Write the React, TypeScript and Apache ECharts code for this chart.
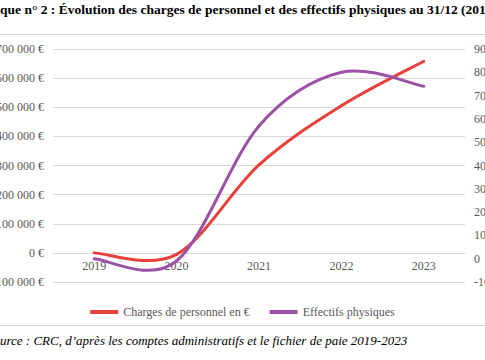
import React, { useEffect, useRef } from "react";
import * as echarts from "echarts";

const categories = ["2019", "2020", "2021", "2022", "2023"];
const chargesPersonnel = [0, -5000, 302000, 505000, 658000];
const effectifsPhysiques = [0, -1, 57, 80, 74];
const seriesNames = ["Charges de personnel en €", "Effectifs physiques"];
const titleText =
  "Graphique n° 2 : Évolution des charges de personnel et des effectifs physiques au 31/12 (2019-2023)";
const sourceText =
  "Source : CRC, d’après les comptes administratifs et le fichier de paie 2019-2023";

const SERIF = "Liberation Serif";
const GRAY = "#595959";
const GRID = "#d9d9d9";
const RED = "#e8403a";
const PURPLE = "#9b52a6";

function fmtEuro(v: number): string {
  const neg = v < 0;
  const s = String(Math.abs(v)).replace(/\B(?=(\d{3})+(?!\d))/g, "\u00a0");
  return (neg ? "-" : "") + s + "\u00a0€";
}

function splineSeries(name: string, values: number[], yAxisIndex: number, color: string, z: number) {
  const n = values.length;
  return {
    type: "custom",
    name,
    yAxisIndex,
    z,
    data: values.map((v, i) => [i, v]),
    encode: { x: 0, y: 1 },
    itemStyle: { color },
    renderItem: (params: any, api: any) => {
      const i = params.dataIndex;
      if (i >= n - 1) return null;
      const P = (k: number) => {
        const kk = Math.max(0, Math.min(n - 1, k));
        return api.coord([kk, values[kk]]);
      };
      const p0 = P(i - 1);
      const p1 = P(i);
      const p2 = P(i + 1);
      const p3 = P(i + 2);
      const cpx1 = p1[0] + (p2[0] - p0[0]) / 6;
      const cpy1 = p1[1] + (p2[1] - p0[1]) / 6;
      const cpx2 = p2[0] - (p3[0] - p1[0]) / 6;
      const cpy2 = p2[1] - (p3[1] - p1[1]) / 6;
      return {
        type: "bezierCurve",
        shape: { x1: p1[0], y1: p1[1], x2: p2[0], y2: p2[1], cpx1, cpy1, cpx2, cpy2 },
        style: { stroke: color, lineWidth: 3, fill: null, lineCap: "round" },
      };
    },
  };
}

export default function App() {
  const ref = useRef<HTMLDivElement>(null);
  useEffect(() => {
    if (!ref.current) return;
    const chart = echarts.init(ref.current, null, { renderer: "svg" });
    chart.setOption({
      animation: false,
      textStyle: { fontFamily: SERIF },
      grid: {
        left: 53,
        right: 20,
        top: 49,
        bottom: 78,
        containLabel: false,
        outerBoundsMode: "none",
      },
      legend: {
        data: [
          { name: seriesNames[0], icon: "rect", itemStyle: { color: RED } },
          { name: seriesNames[1], icon: "rect", itemStyle: { color: PURPLE } },
        ],
        left: "center",
        top: 301,
        itemWidth: 28,
        itemHeight: 4,
        itemGap: 20,
        textStyle: { fontFamily: SERIF, fontSize: 12, color: GRAY },
      },
      xAxis: {
        type: "category",
        data: categories,
        boundaryGap: true,
        offset: -29.1,
        axisLine: { show: true, onZero: false, lineStyle: { color: GRID, width: 1 } },
        axisTick: { show: false },
        axisLabel: { color: GRAY, fontFamily: SERIF, fontSize: 12, margin: 7 },
      },
      yAxis: [
        {
          type: "value",
          min: -100000,
          max: 700000,
          interval: 100000,
          axisLine: { show: false },
          axisTick: { show: false },
          splitLine: { show: true, lineStyle: { color: GRID, width: 1 } },
          axisLabel: {
            color: GRAY,
            fontFamily: SERIF,
            fontSize: 12,
            margin: 9,
            formatter: (v: number) => fmtEuro(v),
          },
        },
        {
          type: "value",
          min: -10,
          max: 90,
          interval: 10,
          position: "right",
          axisLine: { show: false },
          axisTick: { show: false },
          splitLine: { show: false },
          axisLabel: { color: GRAY, fontFamily: SERIF, fontSize: 12, margin: 9 },
        },
      ],
      series: [
        splineSeries(seriesNames[0], chargesPersonnel, 0, RED, 3),
        splineSeries(seriesNames[1], effectifsPhysiques, 1, PURPLE, 4),
      ],
      graphic: [
        {
          type: "text",
          left: -42,
          top: 2,
          style: { text: titleText, font: `bold 13.5px "Liberation Serif"`, fill: "#000" },
        },
        {
          type: "line",
          shape: { x1: 0, y1: 34.5, x2: 485, y2: 34.5 },
          style: { stroke: GRID, lineWidth: 1 },
        },
        {
          type: "line",
          shape: { x1: 0, y1: 325.5, x2: 485, y2: 325.5 },
          style: { stroke: GRID, lineWidth: 1 },
        },
        {
          type: "text",
          left: -13,
          top: 334,
          style: { text: sourceText, font: `italic 13px "Liberation Serif"`, fill: "#000" },
        },
      ],
    });
    return () => chart.dispose();
  }, []);
  return <div ref={ref} style={{ width: 485, height: 360, position: "absolute", left: 0, top: 0 }} />;
}
